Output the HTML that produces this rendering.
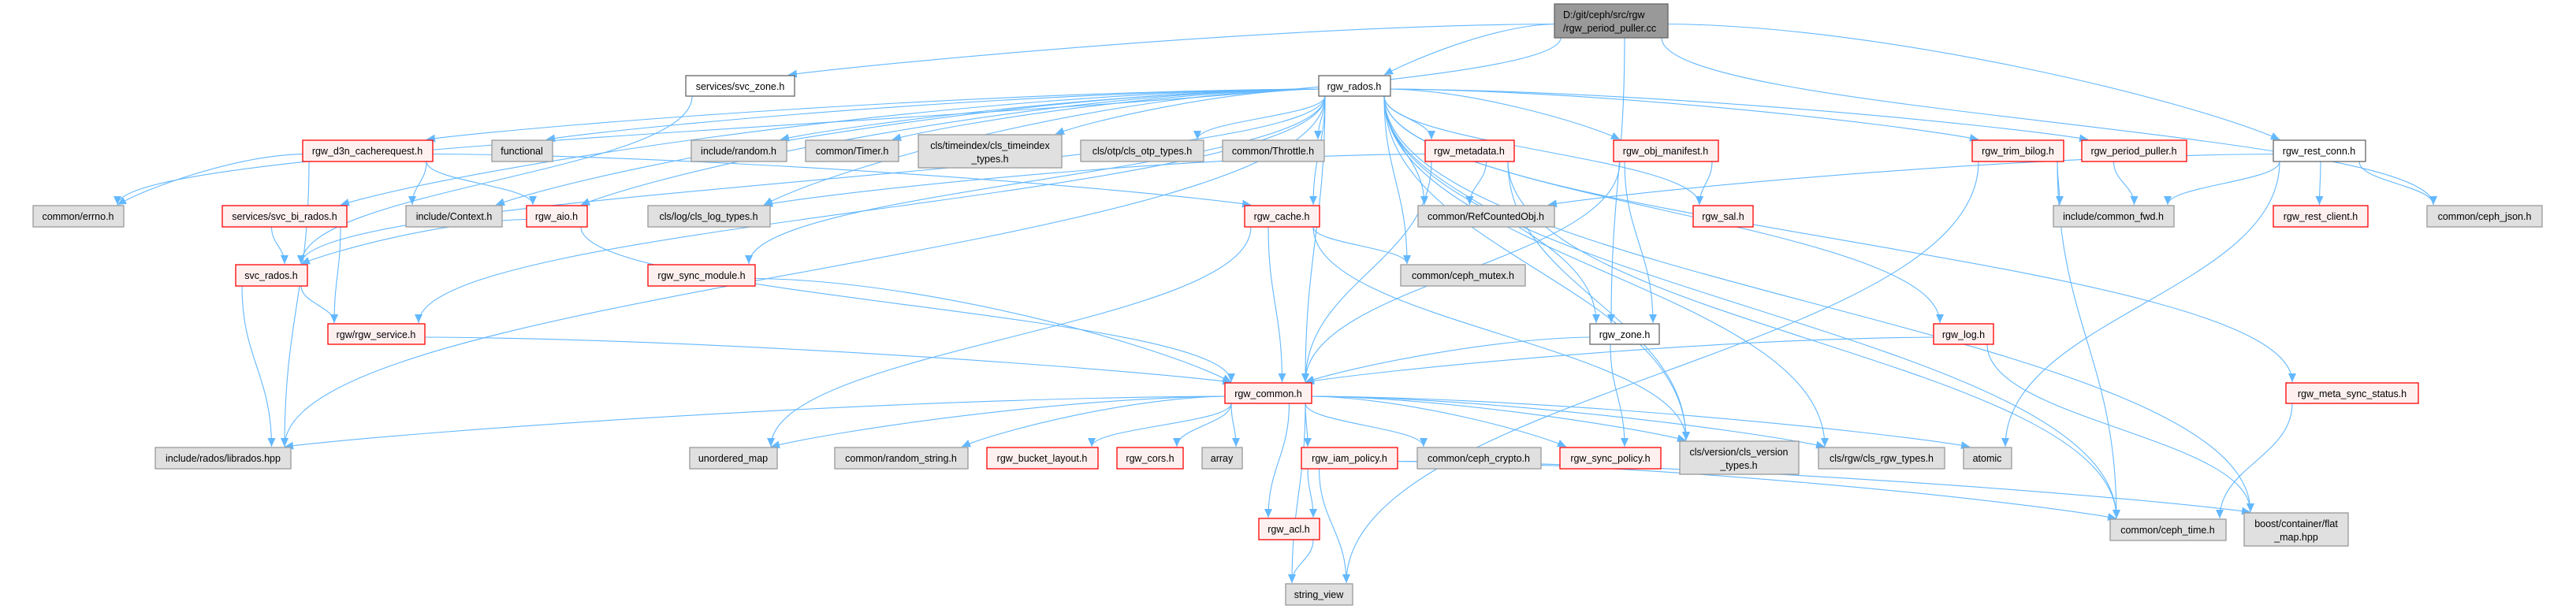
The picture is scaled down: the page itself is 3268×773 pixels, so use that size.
<!DOCTYPE html>
<html><head><meta charset="utf-8">
<style>
html,body{margin:0;padding:0;background:#fff;}
svg{display:block;}
text{font-family:"Liberation Sans",Arial,sans-serif;font-size:12.5px;fill:#000;}
.g{fill:#e0e0e0;stroke:#999;stroke-width:1.3}
.r{fill:#fff0f0;stroke:#f00;stroke-width:1.3}
.w{fill:#fff;stroke:#666;stroke-width:1.3}
.k{fill:#999;stroke:#666;stroke-width:1.3}
.e{fill:none;stroke:#63b8ff;stroke-width:1.1}
</style></head>
<body>
<svg id="s" width="3268" height="773" viewBox="0 0 3268 773" xmlns="http://www.w3.org/2000/svg">
<defs><marker id="a" markerUnits="userSpaceOnUse" markerWidth="12" markerHeight="10" refX="11" refY="5" orient="auto"><path d="M0,0 L11,5 L0,10 z" fill="#63b8ff"/></marker></defs>
<g id="edges"></g>
<g id="nodes">
<rect class="k" x="1972" y="5" width="144" height="43"/><text x="1983" y="23">D:/git/ceph/src/rgw</text><text x="1983" y="40">/rgw_period_puller.cc</text>
<rect class="w" x="870" y="96" width="138" height="26"/><text x="939" y="114" text-anchor="middle">services/svc_zone.h</text>
<rect class="w" x="1673" y="96" width="91" height="26"/><text x="1718" y="114" text-anchor="middle">rgw_rados.h</text>

<rect class="r" x="384" y="178" width="165" height="27"/><text x="466" y="196" text-anchor="middle">rgw_d3n_cacherequest.h</text>
<rect class="g" x="624" y="178" width="77" height="27"/><text x="662" y="196" text-anchor="middle">functional</text>
<rect class="g" x="877" y="178" width="121" height="27"/><text x="937" y="196" text-anchor="middle">include/random.h</text>
<rect class="g" x="1022" y="178" width="118" height="27"/><text x="1081" y="196" text-anchor="middle">common/Timer.h</text>
<rect class="g" x="1165" y="171" width="182" height="42"/><text x="1256" y="189" text-anchor="middle">cls/timeindex/cls_timeindex</text><text x="1256" y="206" text-anchor="middle">_types.h</text>
<rect class="g" x="1371" y="178" width="156" height="27"/><text x="1449" y="196" text-anchor="middle">cls/otp/cls_otp_types.h</text>
<rect class="g" x="1551" y="178" width="129" height="27"/><text x="1615" y="196" text-anchor="middle">common/Throttle.h</text>
<rect class="r" x="1808" y="178" width="113" height="27"/><text x="1864" y="196" text-anchor="middle">rgw_metadata.h</text>
<rect class="r" x="2047" y="178" width="133" height="27"/><text x="2113" y="196" text-anchor="middle">rgw_obj_manifest.h</text>
<rect class="r" x="2502" y="178" width="116" height="27"/><text x="2560" y="196" text-anchor="middle">rgw_trim_bilog.h</text>
<rect class="r" x="2641" y="178" width="133" height="27"/><text x="2707" y="196" text-anchor="middle">rgw_period_puller.h</text>
<rect class="w" x="2884" y="178" width="117" height="27"/><text x="2942" y="196" text-anchor="middle">rgw_rest_conn.h</text>

<rect class="g" x="42" y="261" width="115" height="27"/><text x="99" y="279" text-anchor="middle">common/errno.h</text>
<rect class="r" x="282" y="261" width="158" height="27"/><text x="361" y="279" text-anchor="middle">services/svc_bi_rados.h</text>
<rect class="g" x="515" y="261" width="122" height="27"/><text x="576" y="279" text-anchor="middle">include/Context.h</text>
<rect class="r" x="668" y="261" width="77" height="27"/><text x="706" y="279" text-anchor="middle">rgw_aio.h</text>
<rect class="g" x="822" y="261" width="155" height="27"/><text x="899" y="279" text-anchor="middle">cls/log/cls_log_types.h</text>
<rect class="r" x="1579" y="261" width="95" height="27"/><text x="1626" y="279" text-anchor="middle">rgw_cache.h</text>
<rect class="g" x="1799" y="261" width="173" height="27"/><text x="1885" y="279" text-anchor="middle">common/RefCountedObj.h</text>
<rect class="r" x="2148" y="261" width="76" height="27"/><text x="2186" y="279" text-anchor="middle">rgw_sal.h</text>
<rect class="g" x="2605" y="261" width="153" height="27"/><text x="2681" y="279" text-anchor="middle">include/common_fwd.h</text>
<rect class="r" x="2884" y="261" width="120" height="27"/><text x="2944" y="279" text-anchor="middle">rgw_rest_client.h</text>
<rect class="g" x="3079" y="261" width="146" height="27"/><text x="3152" y="279" text-anchor="middle">common/ceph_json.h</text>

<rect class="r" x="299" y="336" width="91" height="27"/><text x="344" y="354" text-anchor="middle">svc_rados.h</text>
<rect class="r" x="822" y="336" width="136" height="27"/><text x="890" y="354" text-anchor="middle">rgw_sync_module.h</text>
<rect class="g" x="1777" y="336" width="158" height="27"/><text x="1856" y="354" text-anchor="middle">common/ceph_mutex.h</text>

<rect class="r" x="416" y="411" width="123" height="26"/><text x="477" y="429" text-anchor="middle">rgw/rgw_service.h</text>
<rect class="w" x="2017" y="411" width="88" height="26"/><text x="2061" y="429" text-anchor="middle">rgw_zone.h</text>
<rect class="r" x="2453" y="411" width="76" height="26"/><text x="2491" y="429" text-anchor="middle">rgw_log.h</text>

<rect class="r" x="1554" y="486" width="110" height="26"/><text x="1609" y="504" text-anchor="middle">rgw_common.h</text>
<rect class="r" x="2900" y="486" width="168" height="26"/><text x="2984" y="504" text-anchor="middle">rgw_meta_sync_status.h</text>

<rect class="g" x="197" y="568" width="172" height="27"/><text x="283" y="586" text-anchor="middle">include/rados/librados.hpp</text>
<rect class="g" x="875" y="568" width="111" height="27"/><text x="930" y="586" text-anchor="middle">unordered_map</text>
<rect class="g" x="1059" y="568" width="169" height="27"/><text x="1143" y="586" text-anchor="middle">common/random_string.h</text>
<rect class="r" x="1252" y="568" width="141" height="27"/><text x="1322" y="586" text-anchor="middle">rgw_bucket_layout.h</text>
<rect class="r" x="1417" y="568" width="84" height="27"/><text x="1459" y="586" text-anchor="middle">rgw_cors.h</text>
<rect class="g" x="1525" y="568" width="51" height="27"/><text x="1550" y="586" text-anchor="middle">array</text>
<rect class="r" x="1651" y="568" width="122" height="27"/><text x="1712" y="586" text-anchor="middle">rgw_iam_policy.h</text>
<rect class="g" x="1798" y="568" width="157" height="27"/><text x="1876" y="586" text-anchor="middle">common/ceph_crypto.h</text>
<rect class="r" x="1979" y="568" width="128" height="27"/><text x="2043" y="586" text-anchor="middle">rgw_sync_policy.h</text>
<rect class="g" x="2131" y="560" width="151" height="42"/><text x="2206" y="578" text-anchor="middle">cls/version/cls_version</text><text x="2206" y="595" text-anchor="middle">_types.h</text>
<rect class="g" x="2307" y="568" width="160" height="27"/><text x="2387" y="586" text-anchor="middle">cls/rgw/cls_rgw_types.h</text>
<rect class="g" x="2491" y="568" width="61" height="27"/><text x="2521" y="586" text-anchor="middle">atomic</text>

<rect class="r" x="1597" y="658" width="77" height="27"/><text x="1635" y="676" text-anchor="middle">rgw_acl.h</text>
<rect class="g" x="2677" y="659" width="147" height="27"/><text x="2750" y="677" text-anchor="middle">common/ceph_time.h</text>
<rect class="g" x="2847" y="651" width="132" height="42"/><text x="2913" y="669" text-anchor="middle">boost/container/flat</text><text x="2913" y="686" text-anchor="middle">_map.hpp</text>

<rect class="g" x="1631" y="741" width="85" height="27"/><text x="1673" y="759" text-anchor="middle">string_view</text>
</g>
</svg>
<script>
var N={root:[1972,2116,5,48],svczone:[870,1008,96,122],rados:[1673,1764,96,122],
d3n:[384,549,178,205],func:[624,701,178,205],random:[877,998,178,205],timer:[1022,1140,178,205],tidx:[1165,1347,171,213],otp:[1371,1527,178,205],throttle:[1551,1680,178,205],meta:[1808,1921,178,205],manifest:[2047,2180,178,205],trim:[2502,2618,178,205],pp:[2641,2774,178,205],rest:[2884,3001,178,205],
errno:[42,157,261,288],bi:[282,440,261,288],ctx:[515,637,261,288],aio:[668,745,261,288],clslog:[822,977,261,288],cache:[1579,1674,261,288],ref:[1799,1972,261,288],sal:[2148,2224,261,288],fwd:[2605,2758,261,288],rc:[2884,3004,261,288],json:[3079,3225,261,288],
svcr:[299,390,336,363],sync:[822,958,336,363],mutex:[1777,1935,336,363],
svc:[416,539,411,437],zone:[2017,2105,411,437],log:[2453,2529,411,437],
common:[1554,1664,486,512],msync:[2900,3068,486,512],
lib:[197,369,568,595],umap:[875,986,568,595],rstr:[1059,1228,568,595],bl:[1252,1393,568,595],cors:[1417,1501,568,595],arr:[1525,1576,568,595],iam:[1651,1773,568,595],crypto:[1798,1955,568,595],sp:[1979,2107,568,595],ver:[2131,2282,560,602],clsrgw:[2307,2467,568,595],atomic:[2491,2552,568,595],
acl:[1597,1674,658,685],time:[2677,2824,659,686],flat:[2847,2979,651,693],sv:[1631,1716,741,768]};
var E=[["root","rados"],["root","svczone"],["root","errno"],["root","zone"],["root","rest"],["root","json"],
["svczone","svcr"],
["rados","d3n"],["rados","func"],["rados","random"],["rados","timer"],["rados","tidx"],["rados","otp"],["rados","throttle"],["rados","meta"],["rados","manifest"],["rados","trim"],["rados","pp"],["rados","ctx"],["rados","aio"],["rados","bi"],["rados","svcr"],["rados","svc"],["rados","clslog"],["rados","lib"],["rados","sync"],["rados","cache"],["rados","ref"],["rados","mutex"],["rados","sal"],["rados","ver"],["rados","clsrgw"],["rados","log"],["rados","msync"],["rados","flat"],["rados","time"],["rados","common"],["rados","zone"],
["d3n","errno"],["d3n","ctx"],["d3n","aio"],["d3n","lib"],["d3n","cache"],
["bi","svcr"],["bi","svc"],["aio","svcr"],["aio","common"],["svcr","svc"],["svcr","lib"],["svc","common"],["sync","common"],
["meta","clslog"],["meta","ref"],["meta","common"],["meta","ver"],["meta","time"],
["manifest","sal"],["manifest","zone"],["manifest","common"],
["cache","common"],["cache","mutex"],["cache","ver"],["cache","umap"],
["zone","common"],["zone","sp"],["log","common"],["log","flat"],
["trim","fwd"],["trim","time"],["trim","sv"],["pp","fwd"],
["rest","ref"],["rest","fwd"],["rest","rc"],["rest","json"],["rest","atomic"],["msync","time"],
["common","lib"],["common","umap"],["common","rstr"],["common","bl"],["common","cors"],["common","arr"],["common","iam"],["common","acl"],["common","sv"],["common","crypto"],["common","sp"],["common","ver"],["common","clsrgw"],["common","atomic"],
["iam","acl"],["iam","sv"],["iam","time"],["iam","flat"],["acl","sv"]];
var g=document.getElementById("edges"),h="";
function cl(v,a,b){return Math.max(a,Math.min(b,v));}
E.forEach(function(e){var s=N[e[0]],t=N[e[1]];
var scx=(s[0]+s[1])/2,tcx=(t[0]+t[1])/2;
var sx=cl(tcx,s[0]+8,s[1]-8),sy=s[3];
var tx=cl(scx,t[0]+8,t[1]-8),ty=t[2];
var dy=ty-sy,dx=tx-sx;
var d;
if(Math.abs(dx)>4*dy&&dy<160){
 // leave from side
 sx=dx>0?s[1]:s[0];sy=(s[2]+s[3])/2+ (dx>0?4:4);
 var c1x=sx+dx*0.35,c1y=sy+2;
 d="M"+sx+","+sy+" C"+c1x+","+c1y+" "+(tx-dx*0.15)+","+(ty-dy*0.4)+" "+tx+","+(ty-1);
}else{
 d="M"+sx+","+sy+" C"+sx+","+(sy+dy*0.45)+" "+tx+","+(ty-dy*0.45)+" "+tx+","+(ty-1);
}
h+='<path class="e" d="'+d+'" marker-end="url(#a)"/>';});
g.innerHTML=h;
</script>
</body></html>
